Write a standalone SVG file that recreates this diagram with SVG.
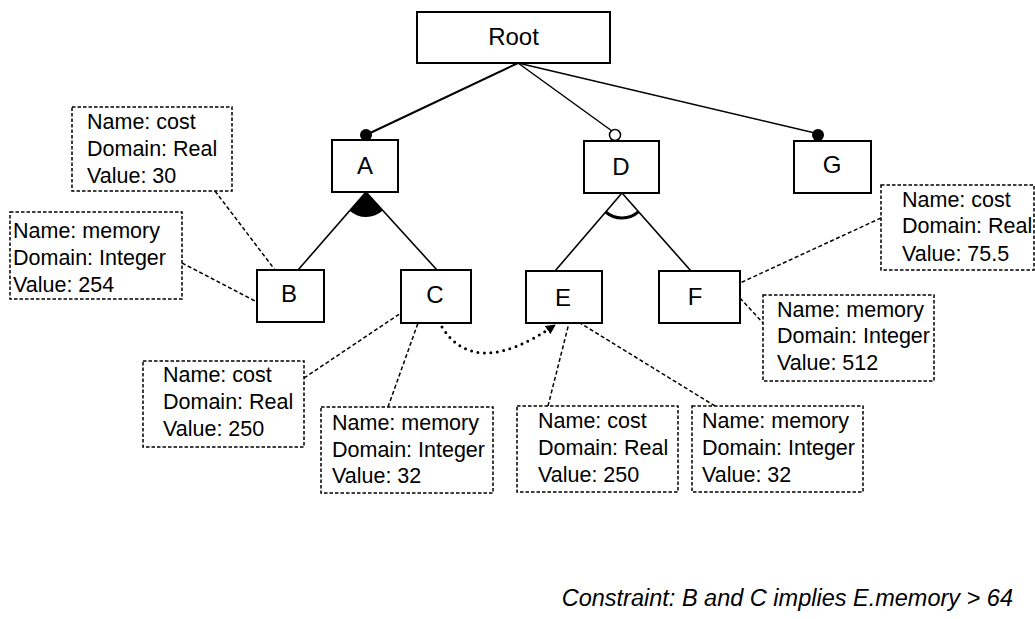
<svg xmlns="http://www.w3.org/2000/svg" width="1035" height="619" viewBox="0 0 1035 619">
<style>
.node{fill:#fff;stroke:#000;stroke-width:2}
.lbl{font-family:"Liberation Sans",Arial,sans-serif;font-size:24px;fill:#000;text-anchor:middle}
.attr{fill:#fff;stroke:#000;stroke-width:1.5;stroke-dasharray:3.5 2}
.at{font-family:"Liberation Sans",Arial,sans-serif;font-size:21.5px;fill:#000}
.dl{fill:none;stroke:#000;stroke-width:1.5;stroke-dasharray:4 2.5}
.tl{fill:none;stroke:#000}
.cons{font-family:"Liberation Sans",Arial,sans-serif;font-size:23.5px;font-style:italic;fill:#000;text-anchor:end}
</style>
<defs>
<marker id="arr" viewBox="0 0 10 10" refX="9" refY="5" markerWidth="10" markerHeight="10" markerUnits="userSpaceOnUse" orient="auto">
<path d="M0,0 L10,5 L0,10 Z" fill="#000"/>
</marker>
</defs>
<g id="connectors">
<line class="tl" x1="518" y1="63" x2="368" y2="134" stroke-width="2"/>
<line class="tl" x1="518" y1="63" x2="612" y2="131" stroke-width="1.5"/>
<line class="tl" x1="518" y1="63" x2="815" y2="133" stroke-width="1.6"/>
<line class="tl" x1="366" y1="192" x2="298" y2="270" stroke-width="1.6"/>
<line class="tl" x1="366" y1="192" x2="437" y2="270" stroke-width="1.6"/>
<path d="M366,192 L349.6,210.8 A25,25 0 0 0 382.8,210.5 Z" fill="#000"/>
<line class="tl" x1="622" y1="193" x2="555" y2="271" stroke-width="1.6"/>
<line class="tl" x1="622" y1="193" x2="691" y2="271" stroke-width="1.6"/>
<path d="M605.7,212 A25,25 0 0 0 638.6,211.7" fill="none" stroke="#000" stroke-width="3"/>
<circle cx="366" cy="135" r="6" fill="#000"/>
<circle cx="615" cy="135" r="5.5" fill="#fff" stroke="#000" stroke-width="1.5"/>
<circle cx="818" cy="135" r="6" fill="#000"/>
<line class="dl" x1="215" y1="191" x2="275" y2="270"/>
<line class="dl" x1="182" y1="263" x2="257" y2="302"/>
<line class="dl" x1="304" y1="378" x2="401" y2="313"/>
<line class="dl" x1="388" y1="407" x2="418" y2="323"/>
<line class="dl" x1="548" y1="406" x2="569" y2="323"/>
<line class="dl" x1="715" y1="406" x2="580" y2="323"/>
<line class="dl" x1="881" y1="218" x2="740" y2="283"/>
<line class="dl" x1="740" y1="298" x2="763" y2="323"/>
<path d="M442,327 Q475,380 555,325" fill="none" stroke="#000" stroke-width="3" stroke-linecap="round" stroke-dasharray="0 6.5" marker-end="url(#arr)"/>
</g>
<g id="Root"><rect class="node" x="417" y="12" width="193" height="51"/><text class="lbl" x="513.5" y="45">Root</text></g>
<g id="A"><rect class="node" x="332" y="140" width="66" height="52"/><text class="lbl" x="365" y="174">A</text></g>
<g id="D"><rect class="node" x="584" y="141" width="75" height="52"/><text class="lbl" x="621" y="175">D</text></g>
<g id="G"><rect class="node" x="794" y="141" width="77" height="52"/><text class="lbl" x="832" y="173">G</text></g>
<g id="B"><rect class="node" x="257" y="270" width="67" height="52"/><text class="lbl" x="289" y="302">B</text></g>
<g id="C"><rect class="node" x="401" y="270" width="70" height="53"/><text class="lbl" x="435" y="303">C</text></g>
<g id="E"><rect class="node" x="526" y="271" width="76" height="52"/><text class="lbl" x="563" y="306">E</text></g>
<g id="F"><rect class="node" x="659" y="271" width="81" height="52"/><text class="lbl" x="695" y="305">F</text></g>
<g id="attr-B-cost"><rect class="attr" x="72" y="107" width="160" height="84"/><text class="at" x="87" y="129">Name: cost</text><text class="at" x="87" y="156">Domain: Real</text><text class="at" x="87" y="183">Value: 30</text></g>
<g id="attr-B-memory"><rect class="attr" x="10" y="212" width="172" height="87"/><text class="at" x="13" y="238">Name: memory</text><text class="at" x="13" y="265">Domain: Integer</text><text class="at" x="13" y="292">Value: 254</text></g>
<g id="attr-C-cost"><rect class="attr" x="143" y="361" width="161" height="86"/><text class="at" x="163" y="382">Name: cost</text><text class="at" x="163" y="409">Domain: Real</text><text class="at" x="163" y="436">Value: 250</text></g>
<g id="attr-C-memory"><rect class="attr" x="321" y="407" width="172" height="86"/><text class="at" x="332" y="430">Name: memory</text><text class="at" x="332" y="457">Domain: Integer</text><text class="at" x="332" y="483">Value: 32</text></g>
<g id="attr-E-cost"><rect class="attr" x="517" y="406" width="161" height="86"/><text class="at" x="538" y="428">Name: cost</text><text class="at" x="538" y="455">Domain: Real</text><text class="at" x="538" y="482">Value: 250</text></g>
<g id="attr-E-memory"><rect class="attr" x="692" y="406" width="171" height="86"/><text class="at" x="702" y="428">Name: memory</text><text class="at" x="702" y="455">Domain: Integer</text><text class="at" x="702" y="482">Value: 32</text></g>
<g id="attr-F-cost"><rect class="attr" x="881" y="185" width="153" height="85"/><text class="at" x="902" y="207">Name: cost</text><text class="at" x="902" y="233">Domain: Real</text><text class="at" x="902" y="261">Value: 75.5</text></g>
<g id="attr-F-memory"><rect class="attr" x="763" y="295" width="171" height="86"/><text class="at" x="777" y="317">Name: memory</text><text class="at" x="777" y="343">Domain: Integer</text><text class="at" x="777" y="370">Value: 512</text></g>
<text class="cons" x="1013" y="606">Constraint: B and C implies E.memory &gt; 64</text>
</svg>
